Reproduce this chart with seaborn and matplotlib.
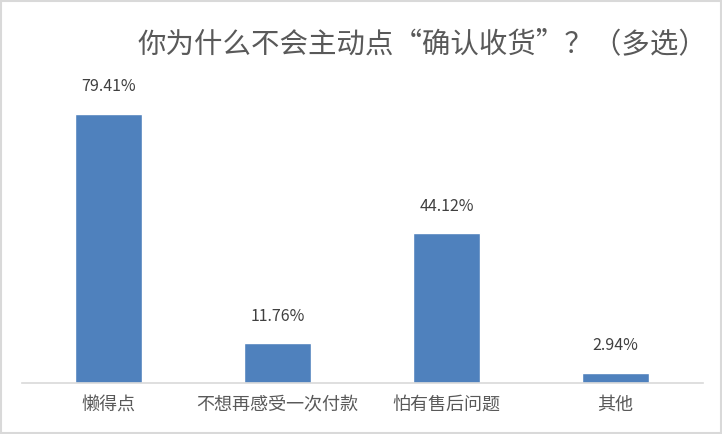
import numpy as np
import pandas as pd
import matplotlib
matplotlib.use("Agg")
import matplotlib.pyplot as plt
import seaborn as sns
from matplotlib.patches import Rectangle

# 数据
categories = ["懒得点", "不想再感受一次付款", "怕有售后问题", "其他"]
values = [79.41, 11.76, 44.12, 2.94]
title_text = "你为什么不会主动点“确认收货”？（多选）"

bar_color = "#4F81BD"
text_gray = "#595959"

sns.set_style("white")
plt.rcParams["font.family"] = ["Noto Sans CJK SC", "DejaVu Sans"]

df = pd.DataFrame({"category": categories, "value": values})

fig = plt.figure(figsize=(7.22, 4.34), dpi=100)
ax = fig.add_axes([22 / 722, 0.1175, 681 / 722, 0.7028])

sns.barplot(data=df, x="category", y="value", color=bar_color,
            width=0.4, saturation=1, ax=ax)

ax.set_ylim(0, 90)
ax.set_xlim(-0.512, 3.518)
ax.set_xlabel("")
ax.set_ylabel("")
ax.set_yticks([])
for side in ["top", "right", "left"]:
    ax.spines[side].set_visible(False)
ax.spines["bottom"].set_color("#D9D9D9")
ax.spines["bottom"].set_linewidth(1.2)
ax.tick_params(axis="x", length=0, pad=9, labelsize=13, labelcolor=text_gray)

# 数据标签
for i, v in enumerate(values):
    ax.text(i, v + 5.5, f"{v:.2f}%", ha="center", va="bottom",
            fontsize=11.5, color="#404040")

fig.text(422 / 722, 1 - 44 / 434, title_text, ha="center", va="center",
         fontsize=20.5, color=text_gray, fontweight="light")

# 外框
fig.patches.append(Rectangle((0.002, 0.003), 0.996, 0.994, transform=fig.transFigure,
                             fill=False, edgecolor="#D9D9D9", linewidth=1.5))

fig.savefig("out.png", dpi=100)
